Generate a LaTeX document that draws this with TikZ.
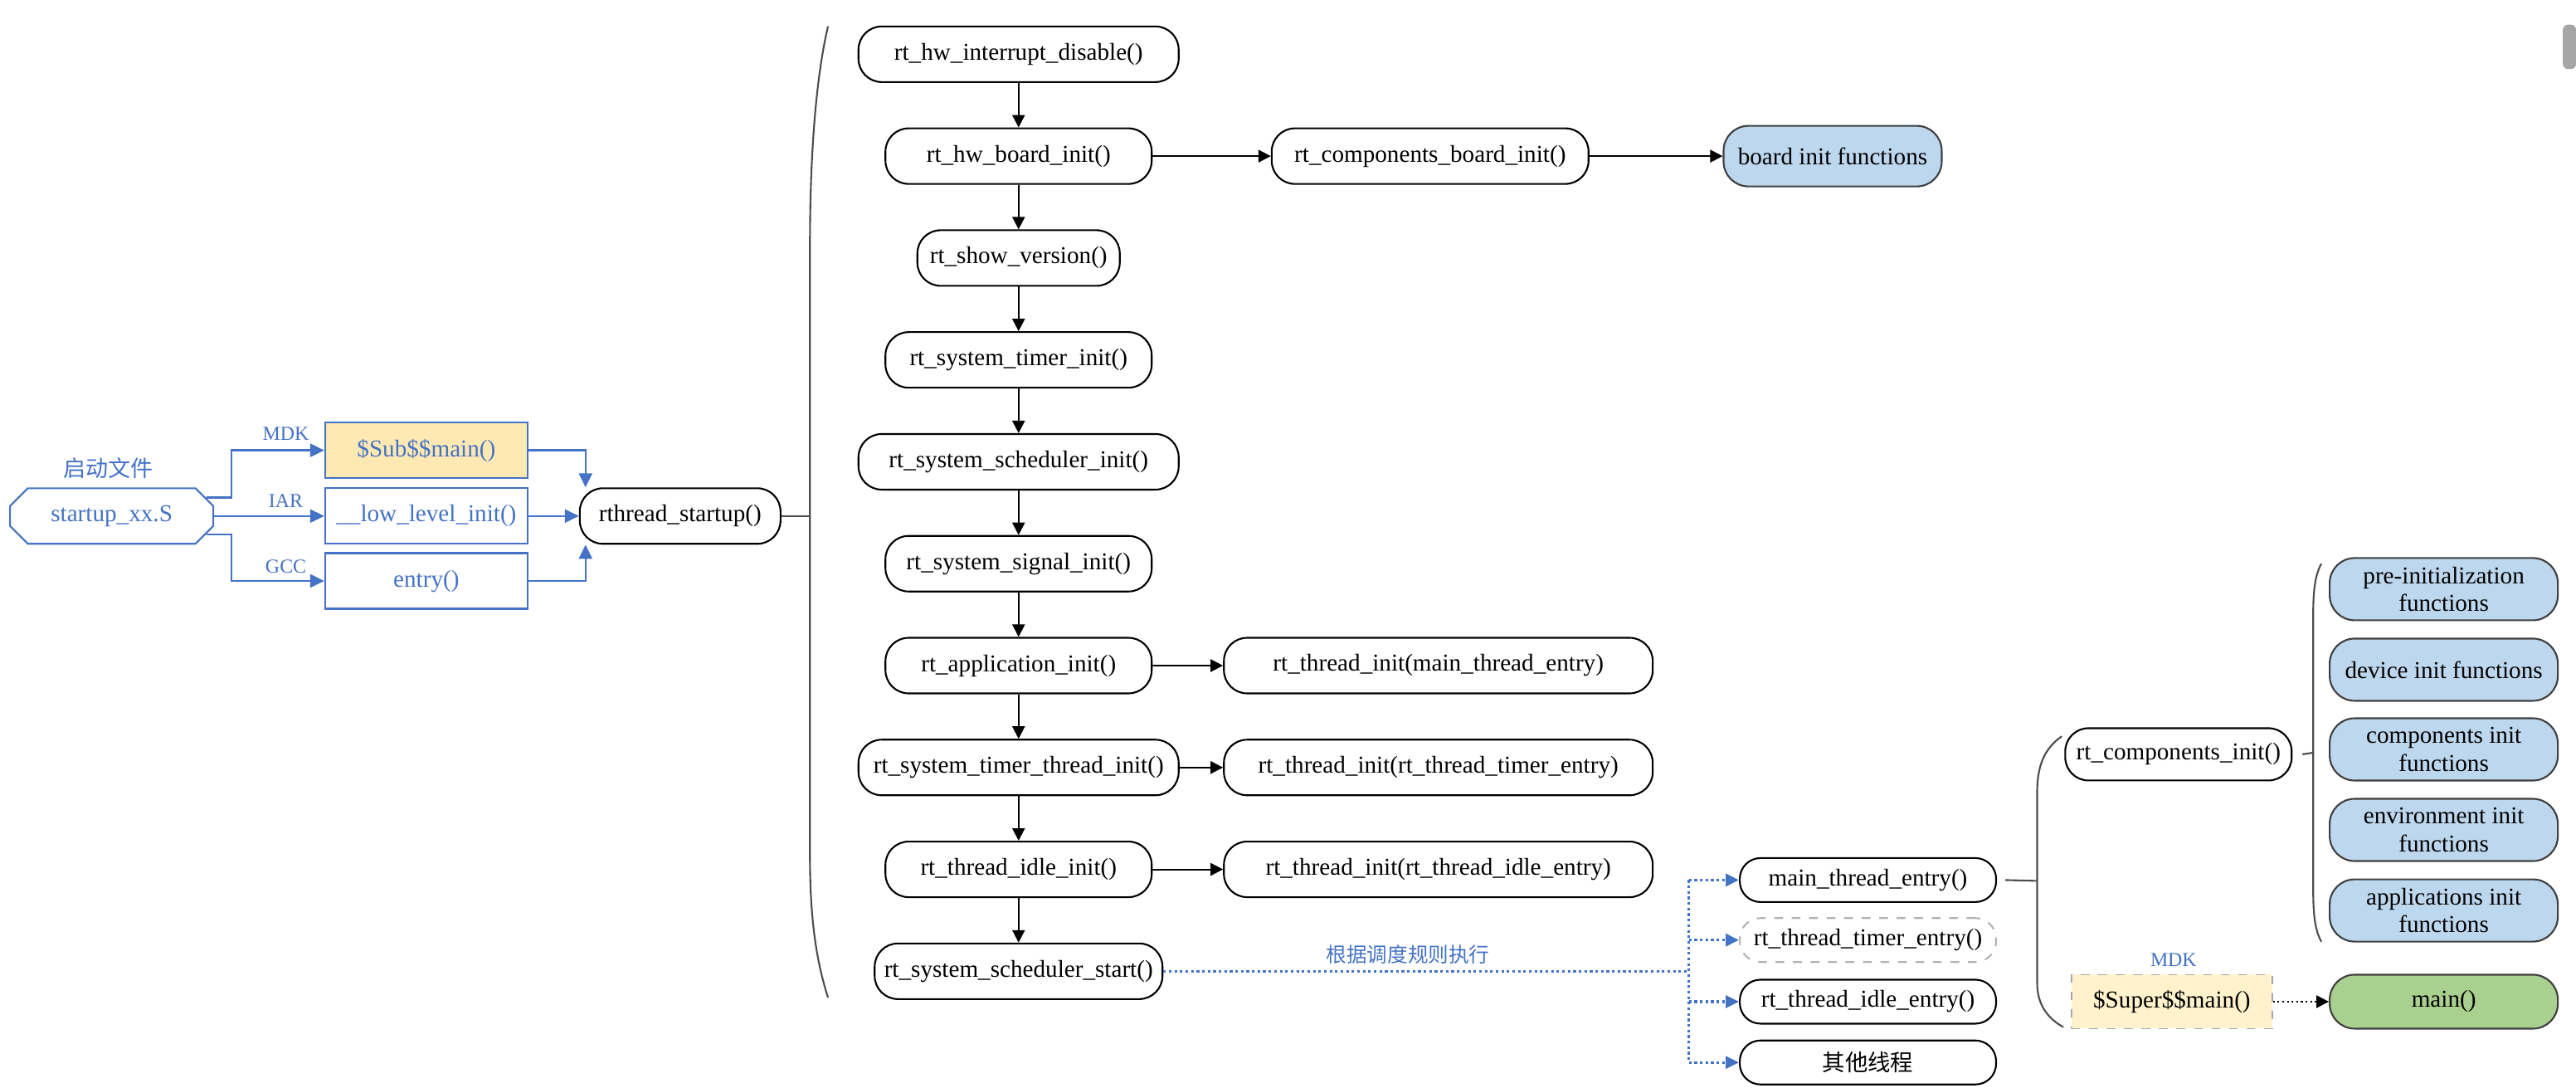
\documentclass[tikz,border=0pt]{standalone}
\usepackage{fontspec}
\setmainfont{Liberation Serif}
\newfontfamily\cjk{Noto Sans CJK SC}
\usetikzlibrary{arrows.meta,shapes.misc}
\definecolor{rtblue}{HTML}{4472C4}
\definecolor{fnblue}{HTML}{BDD7EE}
\definecolor{subyellow}{HTML}{FFE9B3}
\definecolor{supyellow}{HTML}{FFF2CC}
\definecolor{maingreen}{HTML}{A9D08E}
\definecolor{fnedge}{HTML}{3F3F3F}

\begin{document}
\begin{tikzpicture}[x=0.0198cm,y=-0.0198cm,
  every node/.style={font=\fontsize{8.3}{9.6}\selectfont, inner sep=1pt},
  func/.style={draw, line width=0.6pt, rounded corners=0.28cm, minimum height=0.67cm, fill=white},
  thrbox/.style={func, minimum height=0.53cm, minimum width=3.09cm, rounded corners=0.25cm},
  initfn/.style={draw=fnedge, fill=fnblue, line width=0.6pt, rounded corners=0.3cm, minimum width=2.75cm, minimum height=0.75cm, align=center},
  srcbox/.style={draw=rtblue, text=rtblue, line width=0.6pt, minimum width=2.44cm, minimum height=0.67cm},
  srctag/.style={text=rtblue, font=\fontsize{6.8}{8}\selectfont},
  karrow/.style={-{Triangle[length=1.5mm,width=1.5mm]}, line width=0.6pt},
  barrow/.style={-{Triangle[length=1.7mm,width=1.6mm]}, line width=0.7pt, rtblue},
  dline/.style={rtblue, line width=0.9pt, densely dotted},
  darrow/.style={dline, -{Triangle[length=1.6mm,width=1.5mm]}},
  kdot/.style={karrow, densely dotted},
  brace/.style={line width=0.6pt, black!70}]
\useasboundingbox (0,0) rectangle (1568,662);

\node[srcbox, chamfered rectangle, minimum width=2.45cm] (st) at (68,314) {startup\_xx.S};
\node[srctag, font=\cjk\fontsize{7.7}{9}\selectfont] (stl) at (66,285) {启动文件};
\node[srcbox, fill=subyellow] (sub) at (259.5,274) {\$Sub\$\$main()};
\node[srcbox] (low) at (259.5,314) {\_\_low\_level\_init()};
\node[srcbox] (ent) at (259.5,353.5) {entry()};
\node[srctag] (mdk1) at (174,264) {MDK};
\node[srctag] (iar) at (174,305) {IAR};
\node[srctag] (gcc) at (174,345) {GCC};
\node[func, minimum width=2.42cm] (rts) at (414,314) {rthread\_startup()};

\node[func, minimum width=3.86cm] (hid) at (620,33) {rt\_hw\_interrupt\_disable()};
\node[func, minimum width=3.21cm] (hbi) at (620,95) {rt\_hw\_board\_init()};
\node[func, minimum width=2.44cm] (ver) at (620,157) {rt\_show\_version()};
\node[func, minimum width=3.21cm] (sti) at (620,219) {rt\_system\_timer\_init()};
\node[func, minimum width=3.86cm] (ssi) at (620,281) {rt\_system\_scheduler\_init()};
\node[func, minimum width=3.21cm] (sgi) at (620,343) {rt\_system\_signal\_init()};
\node[func, minimum width=3.21cm] (api) at (620,405) {rt\_application\_init()};
\node[func, minimum width=3.86cm] (tti) at (620,467) {rt\_system\_timer\_thread\_init()};
\node[func, minimum width=3.21cm] (idi) at (620,529) {rt\_thread\_idle\_init()};
\node[func, minimum width=3.47cm] (sss) at (620,591) {rt\_system\_scheduler\_start()};

\node[func, minimum width=3.82cm] (cbi) at (870.5,95) {rt\_components\_board\_init()};
\node[initfn, minimum width=2.63cm, minimum height=0.73cm] (bif) at (1115.5,95) {board init functions};
\node[func, minimum width=5.17cm] (tmain) at (875.5,405) {rt\_thread\_init(main\_thread\_entry)};
\node[func, minimum width=5.17cm] (ttimer) at (875.5,467) {rt\_thread\_init(rt\_thread\_timer\_entry)};
\node[func, minimum width=5.17cm] (tidle) at (875.5,529) {rt\_thread\_init(rt\_thread\_idle\_entry)};

\node[text=rtblue, font=\cjk\fontsize{7}{8}\selectfont] (sched) at (857,581) {根据调度规则执行};
\node[thrbox] (mte) at (1137,535.5) {main\_thread\_entry()};
\node[thrbox, draw=gray!60, dashed] (tte) at (1137,572) {rt\_thread\_timer\_entry()};
\node[thrbox] (ite) at (1137,609.5) {rt\_thread\_idle\_entry()};
\node[thrbox, font=\cjk\fontsize{7.8}{9}\selectfont] (oth) at (1137,646.5) {其他线程};

\node[func, minimum width=2.73cm, minimum height=0.63cm] (cpi) at (1326,459) {rt\_components\_init()};
\node[initfn] (fpre) at (1487.5,358.5) {pre-initialization\\functions};
\node[initfn] (fdev) at (1487.5,407.5) {device init functions};
\node[initfn] (fcmp) at (1487.5,456) {components init\\functions};
\node[initfn] (fenv) at (1487.5,505) {environment init\\functions};
\node[initfn] (fapp) at (1487.5,554) {applications init\\functions};
\node[draw=gray!70, dashed, fill=supyellow, line width=0.5pt, minimum width=2.42cm, minimum height=0.65cm] (sup) at (1322,609.5) {\$Super\$\$main()};
\node[srctag] (mdk2) at (1323,584) {MDK};
\node[initfn, fill=maingreen, minimum height=0.65cm] (mainf) at (1487.5,609.5) {main()};

\coordinate (fork) at (141,314);
\draw[barrow] (st.11) -| (fork |- sub.west) -- (sub.west);
\draw[barrow] (st.east) -- (low.west);
\draw[barrow] (st.-11) -| (fork |- ent.west) -- (ent.west);
\draw[barrow] (sub.east) -| ([xshift=0.08cm]rts.north west);
\draw[barrow] (low.east) -- (rts.west);
\draw[barrow] (ent.east) -| ([xshift=0.08cm]rts.south west);

\foreach \a/\b in {hid/hbi,hbi/ver,ver/sti,sti/ssi,ssi/sgi,sgi/api,api/tti,tti/idi,idi/sss}
  \draw[karrow] (\a) -- (\b);
\draw[karrow] (hbi) -- (cbi);
\draw[karrow] (cbi) -- (bif);
\draw[karrow] (api) -- (tmain);
\draw[karrow] (tti) -- (ttimer);
\draw[karrow] (idi) -- (tidle);

\coordinate (disp) at (1028,591);
\draw[dline] (sss.east) -- (disp);
\draw[dline] (disp |- mte.west) -- (disp |- oth.west);
\foreach \n in {mte,tte,ite,oth}
  \draw[darrow] (disp |- \n.west) -- (\n.west);

\coordinate (br1) at (493,314);
\draw[brace] (504,16) .. controls (496,50) and (493,100) .. (493,150) -- (493,520) .. controls (493,560) and (497,585) .. (504,607);
\draw[brace] (rts.east) -- (br1);
\coordinate (br2) at (1240,536);
\draw[brace] (1255,448) .. controls (1245,455) and (1240,465) .. (1240,482) -- (1240,598) .. controls (1240,612) and (1247,620) .. (1256,625);
\draw[brace] ([xshift=0.1cm]mte.east) -- (br2);
\coordinate (br3) at (1408,458);
\draw[brace] (1413,343) .. controls (1409,350) and (1408,360) .. (1408,375) -- (1408,540) .. controls (1408,556) and (1409,566) .. (1413,573);
\draw[brace] ([xshift=0.12cm]cpi.east) -- (br3);
\draw[kdot] (sup) -- (mainf);

\fill[gray!70, rounded corners=0.06cm] (1560,15) rectangle (1568,42);
\end{tikzpicture}
\end{document}
